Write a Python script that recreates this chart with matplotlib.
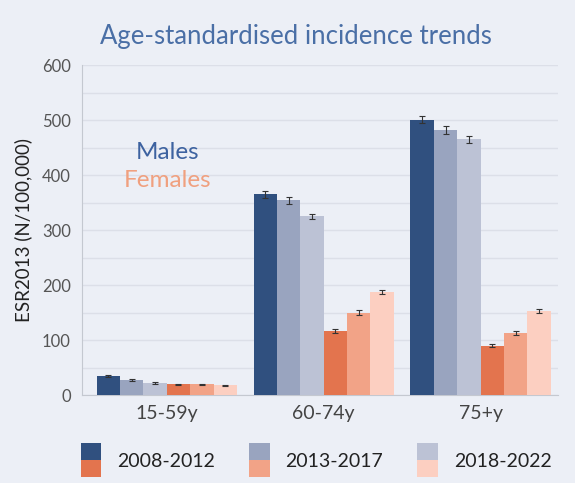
import numpy as np
import matplotlib
matplotlib.use("Agg")
import matplotlib.pyplot as plt
from matplotlib.patches import Rectangle
from matplotlib.legend_handler import HandlerBase

plt.rcParams['font.family'] = ['Lato', 'DejaVu Sans']

groups = ['15-59y', '60-74y', '75+y']
periods = ['2008-2012', '2013-2017', '2018-2022']

# ESR per 100,000, rows = period
males = [[35, 365, 501],
         [27, 354, 482],
         [22, 325, 465]]
females = [[20, 117, 90],
           [20, 150, 113],
           [18, 188, 153]]
males_err = [[2, 6, 7],
             [2, 6, 7],
             [1, 5, 6]]
females_err = [[1, 4, 3],
               [1, 4, 3],
               [1, 4, 3]]

male_cols = ['#30507f', '#99a4bf', '#bcc2d5']
female_cols = ['#e3744e', '#f2a387', '#fccfc1']
bg = '#eceff6'


class SplitHandler(HandlerBase):
    # two stacked squares, male colour on top of female colour
    def create_artists(self, legend, orig, xd, yd, w, h, fontsize, trans):
        full = 24.5
        y0 = yd + h / 2 - full / 2
        top = Rectangle((xd, y0 + full / 2), w, full / 2, facecolor=orig[0],
                        edgecolor='none', transform=trans)
        bot = Rectangle((xd, y0), w, full / 2, facecolor=orig[1],
                        edgecolor='none', transform=trans)
        return [top, bot]


fig = plt.figure(figsize=(5.75, 4.83), dpi=100, facecolor=bg)
ax = fig.add_axes([0.1426, 0.182, 0.827, 0.683], facecolor=bg)

x = np.arange(len(groups))
w = 0.149
offsets = (np.arange(6) - 2.5) * w
err_kw = dict(ecolor='#333333', elinewidth=0.8, capsize=2.5, capthick=0.8)

for i in range(3):
    ax.bar(x + offsets[i], males[i], w, color=male_cols[i],
           yerr=males_err[i], error_kw=err_kw, zorder=3)
    ax.bar(x + offsets[i + 3], females[i], w, color=female_cols[i],
           yerr=females_err[i], error_kw=err_kw, zorder=3)

ax.set_xlim(-0.54, 2.49)
ax.set_ylim(0, 600)
ax.set_yticks(range(0, 601, 100))
ax.set_yticks(range(50, 600, 100), minor=True)
ax.grid(axis='y', which='both', color='#dcdfe8', linewidth=1, zorder=0)
ax.set_xticks(x)
ax.set_xticklabels(groups, fontsize=14, color='#444444')
ax.tick_params(axis='y', labelsize=12, labelcolor='#555555', length=0, pad=8)
ax.tick_params(axis='x', length=0, pad=7)
ax.tick_params(which='minor', length=0)
for s in ['top', 'right']:
    ax.spines[s].set_visible(False)
for s in ['left', 'bottom']:
    ax.spines[s].set_color('#c4c8d0')
ax.set_ylabel('ESR2013 (N/100,000)', fontsize=13.5, color='#222222', labelpad=7)

ax.text(0.179, 0.736, 'Males', transform=ax.transAxes, ha='center',
        va='center', fontsize=17.5, color='#3d62a0')
ax.text(0.179, 0.652, 'Females', transform=ax.transAxes, ha='center',
        va='center', fontsize=17.5, color='#f0a07f')

fig.text(0.515, 0.925, 'Age-standardised incidence trends', ha='center',
         va='center', fontsize=18.5, color='#4a6fa6')

handles = [(male_cols[i], female_cols[i]) for i in range(3)]
fig.legend(handles, periods, handler_map={tuple: SplitHandler()},
           loc='center', bbox_to_anchor=(0.55, 0.044), ncol=3, frameon=False,
           fontsize=14, handlelength=1.05, handleheight=0.7,
           handletextpad=0.82, columnspacing=1.75, labelcolor='#222222')

fig.savefig('out.png', dpi=100, facecolor=bg)
